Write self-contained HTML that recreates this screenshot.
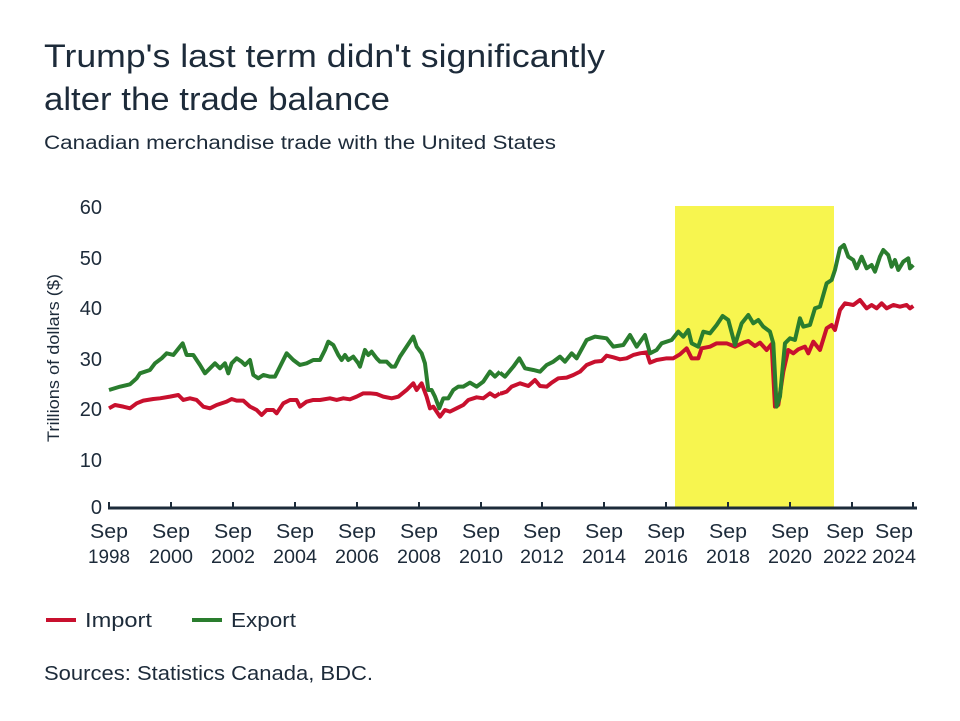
<!DOCTYPE html>
<html><head><meta charset="utf-8"><style>
body{margin:0;background:#fff;}
svg{display:block;font-family:"Liberation Sans",sans-serif;fill:#1d2b3a;}
</style></head><body>
<svg width="960" height="721" viewBox="0 0 960 721">
<text x="44" y="67" font-size="32" textLength="561" lengthAdjust="spacingAndGlyphs">Trump's last term didn't significantly</text>
<text x="44" y="110" font-size="32" textLength="346" lengthAdjust="spacingAndGlyphs">alter the trade balance</text>
<text x="44" y="149" font-size="19" textLength="512" lengthAdjust="spacingAndGlyphs">Canadian merchandise trade with the United States</text>
<rect x="675" y="206" width="159" height="302" fill="#f7f54f"/>
<g font-size="20" text-anchor="end">
<text x="102" y="214">60</text><text x="102" y="265">50</text><text x="102" y="315">40</text>
<text x="102" y="366">30</text><text x="102" y="416">20</text><text x="102" y="467">10</text><text x="102" y="514">0</text>
</g>
<text transform="translate(59,358) rotate(-90)" font-size="17" text-anchor="middle" textLength="168" lengthAdjust="spacingAndGlyphs">Trillions of dollars ($)</text>
<line x1="108" y1="508" x2="917" y2="508" stroke="#1d2b3a" stroke-width="3"/>
<g stroke="#1d2b3a" stroke-width="2">
<line x1="109" y1="502" x2="109" y2="508"/><line x1="171" y1="502" x2="171" y2="508"/><line x1="233" y1="502" x2="233" y2="508"/><line x1="295" y1="502" x2="295" y2="508"/><line x1="357" y1="502" x2="357" y2="508"/><line x1="419" y1="502" x2="419" y2="508"/><line x1="481" y1="502" x2="481" y2="508"/><line x1="542" y1="502" x2="542" y2="508"/><line x1="604" y1="502" x2="604" y2="508"/><line x1="666" y1="502" x2="666" y2="508"/><line x1="728" y1="502" x2="728" y2="508"/><line x1="790" y1="502" x2="790" y2="508"/><line x1="852" y1="502" x2="852" y2="508"/><line x1="913" y1="502" x2="913" y2="508"/>
</g>
<g font-size="20" text-anchor="middle">
<text x="109" y="538" textLength="38" lengthAdjust="spacingAndGlyphs">Sep</text><text x="109" y="563" font-size="19" textLength="42" lengthAdjust="spacingAndGlyphs">1998</text>
<text x="171" y="538" textLength="38" lengthAdjust="spacingAndGlyphs">Sep</text><text x="171" y="563" font-size="19" textLength="44" lengthAdjust="spacingAndGlyphs">2000</text>
<text x="233" y="538" textLength="38" lengthAdjust="spacingAndGlyphs">Sep</text><text x="233" y="563" font-size="19" textLength="44" lengthAdjust="spacingAndGlyphs">2002</text>
<text x="295" y="538" textLength="38" lengthAdjust="spacingAndGlyphs">Sep</text><text x="295" y="563" font-size="19" textLength="44" lengthAdjust="spacingAndGlyphs">2004</text>
<text x="357" y="538" textLength="38" lengthAdjust="spacingAndGlyphs">Sep</text><text x="357" y="563" font-size="19" textLength="44" lengthAdjust="spacingAndGlyphs">2006</text>
<text x="419" y="538" textLength="38" lengthAdjust="spacingAndGlyphs">Sep</text><text x="419" y="563" font-size="19" textLength="44" lengthAdjust="spacingAndGlyphs">2008</text>
<text x="481" y="538" textLength="38" lengthAdjust="spacingAndGlyphs">Sep</text><text x="481" y="563" font-size="19" textLength="44" lengthAdjust="spacingAndGlyphs">2010</text>
<text x="542" y="538" textLength="38" lengthAdjust="spacingAndGlyphs">Sep</text><text x="542" y="563" font-size="19" textLength="44" lengthAdjust="spacingAndGlyphs">2012</text>
<text x="604" y="538" textLength="38" lengthAdjust="spacingAndGlyphs">Sep</text><text x="604" y="563" font-size="19" textLength="44" lengthAdjust="spacingAndGlyphs">2014</text>
<text x="666" y="538" textLength="38" lengthAdjust="spacingAndGlyphs">Sep</text><text x="666" y="563" font-size="19" textLength="44" lengthAdjust="spacingAndGlyphs">2016</text>
<text x="728" y="538" textLength="38" lengthAdjust="spacingAndGlyphs">Sep</text><text x="728" y="563" font-size="19" textLength="44" lengthAdjust="spacingAndGlyphs">2018</text>
<text x="790" y="538" textLength="38" lengthAdjust="spacingAndGlyphs">Sep</text><text x="790" y="563" font-size="19" textLength="44" lengthAdjust="spacingAndGlyphs">2020</text>
<text x="845" y="538" textLength="38" lengthAdjust="spacingAndGlyphs">Sep</text><text x="845" y="563" font-size="19" textLength="44" lengthAdjust="spacingAndGlyphs">2022</text>
<text x="894" y="538" textLength="38" lengthAdjust="spacingAndGlyphs">Sep</text><text x="894" y="563" font-size="19" textLength="44" lengthAdjust="spacingAndGlyphs">2024</text>
</g>
<g fill="none" stroke-width="4" stroke-linejoin="round">
<g transform="translate(40,190) scale(0.3333)">
<polyline stroke="#c8102e" stroke-width="4" vector-effect="non-scaling-stroke" points="207,655 225,645 250,650 270,655 290,640 310,632 340,627 360,625 390,620 415,615 430,630 450,625 470,630 490,650 510,655 530,645 560,635 575,627 590,632 610,632 630,650 650,660 665,675 680,660 700,660 710,670 730,640 750,630 770,630 780,650 800,635 820,630 840,630 870,625 890,630 910,625 930,628 950,620 970,610 990,610 1010,612 1030,620 1055,625 1075,620 1100,600 1120,580 1130,600 1145,580 1160,620 1170,655 1180,650 1200,680 1215,660 1230,665 1250,655 1270,645 1285,630 1310,622 1330,625 1350,610 1365,620 1380,610"/>
<polyline stroke="#2a7d2e" stroke-width="4" vector-effect="non-scaling-stroke" points="207,600 240,590 270,583 290,565 300,550 330,540 345,520 365,505 380,490 400,495 420,470 428,460 440,495 460,495 480,525 495,550 510,535 525,520 540,535 555,520 565,550 575,520 590,505 605,515 615,525 630,510 640,555 655,565 670,555 690,560 705,560 720,530 740,490 760,510 780,525 800,520 820,510 840,510 855,480 865,455 880,465 895,495 905,510 915,495 925,510 940,500 955,520 960,530 975,480 985,495 995,485 1010,505 1020,515 1040,515 1055,530 1065,530 1080,500 1100,470 1120,440 1130,470 1145,490 1155,520 1165,600 1175,600 1185,620 1198,655 1210,625 1225,625 1240,600 1255,590 1270,590 1290,578 1310,590 1330,575 1350,545 1365,560 1380,545"/>
</g>
<g transform="translate(480,190) scale(0.3333)">
<polyline stroke="#c8102e" stroke-width="4" vector-effect="non-scaling-stroke" points="60,610 65,610 80,605 95,590 120,580 145,588 165,570 180,588 200,590 215,578 235,565 260,563 280,555 300,545 320,525 345,515 365,513 380,497 400,502 420,508 440,505 460,495 480,490 500,487 510,518 530,510 560,505 580,505 600,493 620,475 635,505 655,505 665,475 690,470 710,460 740,460 765,470 790,458 805,453 825,468 840,458 860,480 875,462 885,650 895,645 910,545 925,480 940,490 955,478 975,470 985,490 1000,455 1020,480 1040,415 1055,405 1065,420 1080,360 1095,340 1120,345 1140,330 1160,355 1175,345 1190,355 1205,340 1220,355 1240,345 1260,350 1280,345 1290,355 1300,348"/>
<polyline stroke="#2a7d2e" stroke-width="4" vector-effect="non-scaling-stroke" points="60,548 75,560 100,530 118,505 135,535 160,540 180,545 200,525 220,515 240,500 255,515 275,490 290,505 320,450 345,440 380,445 400,470 430,465 450,435 470,470 495,435 510,490 530,480 545,460 575,450 595,425 610,440 625,420 635,460 655,470 670,425 690,430 710,405 728,378 745,390 765,465 785,400 805,375 820,400 835,390 850,410 870,425 880,460 890,650 900,620 915,460 930,445 945,450 960,385 970,410 990,405 1005,355 1020,350 1040,280 1055,270 1065,240 1080,175 1092,165 1105,200 1120,210 1130,235 1145,200 1160,235 1175,225 1185,245 1200,200 1210,180 1225,195 1235,230 1245,210 1255,240 1270,215 1285,205 1290,235 1300,225"/>
</g>
</g>
<line x1="46" y1="620" x2="76" y2="620" stroke="#c8102e" stroke-width="4"/>
<text x="85" y="627" font-size="20" textLength="67" lengthAdjust="spacingAndGlyphs">Import</text>
<line x1="192" y1="620" x2="222" y2="620" stroke="#2a7d2e" stroke-width="4"/>
<text x="231" y="627" font-size="20" textLength="65" lengthAdjust="spacingAndGlyphs">Export</text>
<text x="44" y="680" font-size="20" textLength="329" lengthAdjust="spacingAndGlyphs">Sources: Statistics Canada, BDC.</text>
</svg>
</body></html>
